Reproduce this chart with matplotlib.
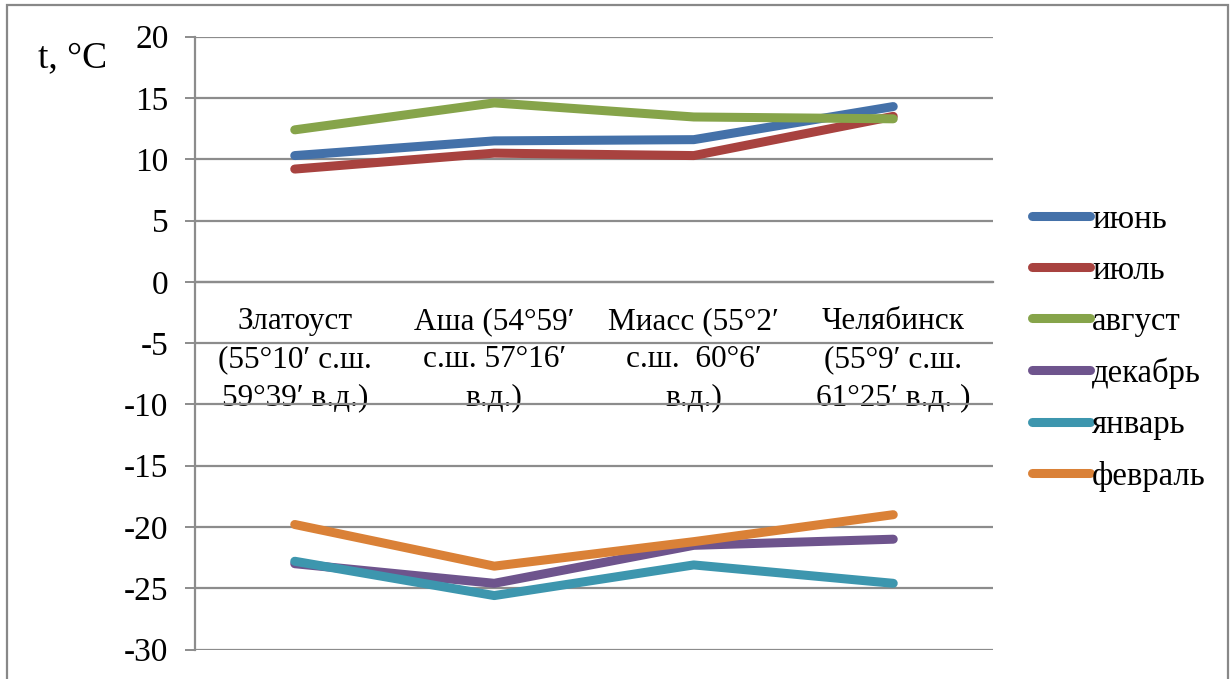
import numpy as np
import matplotlib.pyplot as plt
from matplotlib.patches import Rectangle

plt.rcParams["font.family"] = ["Liberation Serif", "DejaVu Serif"]
plt.rcParams["axes.unicode_minus"] = False

# Средние месячные температуры по станциям, °C
stations = [
    "Златоуст\n(55°10′ с.ш.\n59°39′ в.д.)",
    "Аша (54°59′\nс.ш. 57°16′\nв.д.)",
    "Миасс (55°2′\nс.ш.  60°6′\nв.д.)",
    "Челябинск\n(55°9′ с.ш.\n61°25′ в.д. )",
]
months = ["июнь", "июль", "август", "декабрь", "январь", "февраль"]
june = [10.3, 11.5, 11.6, 14.3]
july = [9.2, 10.5, 10.3, 13.5]
august = [12.4, 14.6, 13.45, 13.3]
december = [-23.0, -24.6, -21.5, -21.0]
january = [-22.8, -25.6, -23.1, -24.6]
february = [-19.8, -23.2, -21.2, -19.0]
series = [june, july, august, december, january, february]
colors = ["#4471A9", "#A8423F", "#86A44A", "#6E548D", "#3D96AE", "#DA8137"]

fig = plt.figure(figsize=(12.32, 6.79), dpi=100)
ax = fig.add_axes([195 / 1232, 1 - 649.5 / 679, (993 - 195) / 1232, (649.5 - 36.7) / 679])

x = np.arange(len(stations))
for vals, c, name in zip(series, colors, months):
    ax.plot(x, vals, color=c, lw=6.5, solid_capstyle="round",
            solid_joinstyle="round", label=name, zorder=3)

grid_c = "#8C8C8C"
ax.set_xlim(-0.5, len(stations) - 0.5)
ax.set_ylim(-30, 20)
ax.set_yticks(np.arange(-30, 21, 5))
ax.yaxis.grid(True, color=grid_c, lw=1.6)
ax.set_axisbelow(True)
ax.tick_params(axis="y", length=7, width=1.4, color=grid_c, labelsize=24, pad=12)

for s in ["top", "right"]:
    ax.spines[s].set_visible(False)
ax.spines["left"].set_color(grid_c)
ax.spines["left"].set_linewidth(1.6)
ax.spines["bottom"].set_position(("data", 0))
ax.spines["bottom"].set_color(grid_c)
ax.spines["bottom"].set_linewidth(1.6)

ax.set_xticks(x)
ax.set_xticklabels(stations, fontsize=22.5, linespacing=1.42)
ax.tick_params(axis="x", length=0, pad=18)

fig.text(38 / 1232, 1 - 58 / 679, "t, °C", fontsize=27, ha="left", va="center")

leg = fig.legend(loc="upper left", bbox_to_anchor=(1032 / 1232, 1 - 204 / 679),
                 frameon=False, fontsize=23.6, handlelength=1.77, handletextpad=0.06,
                 labelspacing=0.63, borderaxespad=0, borderpad=0)

# рамка вокруг диаграммы
fig.patches.append(Rectangle((7 / 1232, -0.05), (1228 - 7) / 1232, 1.05 - 5 / 679,
                             transform=fig.transFigure, fill=False,
                             edgecolor="#888888", lw=1.6))

fig.savefig("out.png", dpi=100)
